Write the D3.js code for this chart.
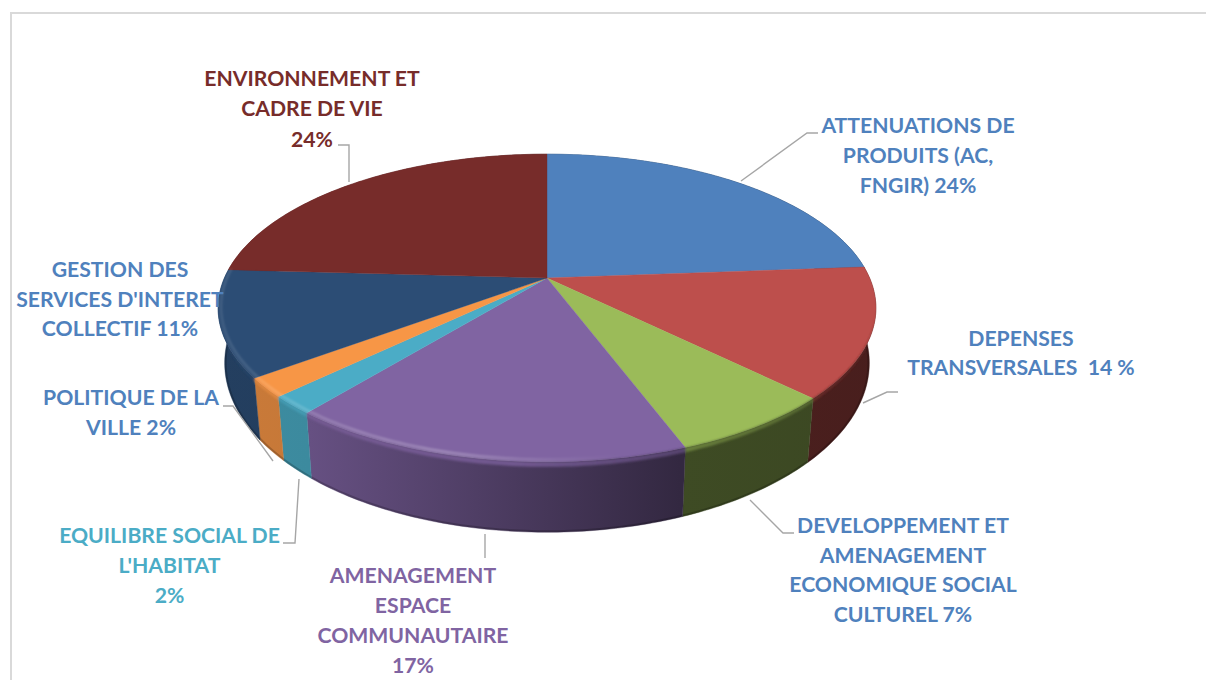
<!DOCTYPE html>
<html><head><meta charset="utf-8">
<script src="https://cdn.jsdelivr.net/npm/d3@7"></script>
<style>html,body{margin:0;padding:0;background:#fff;overflow:hidden}svg{display:block}
text{font-family:Lato,"Open Sans",sans-serif;font-weight:700;font-size:21.2px;white-space:pre}</style>
</head><body><svg id="c" width="1206" height="680"></svg>
<script>
// Data (shares, clockwise from 12 o'clock)
const categories = ["ATTENUATIONS","DEPENSES","DEVELOPPEMENT","AMENAGEMENT","EQUILIBRE","POLITIQUE","GESTION","ENVIRONNEMENT"];
const shares = [23.8,13.6,6.9,16.6,1.9,2.0,11.1,24.1];
const sliceColors = ["#4f81bd","#bd4f4c","#9bbb59","#8064a2","#4bacc6","#f79646","#2c4d75","#772c2a"];
const labelLines = [
 ["ATTENUATIONS DE","PRODUITS (AC,","FNGIR) 24%"],
 ["DEPENSES","TRANSVERSALES  14 %"],
 ["DEVELOPPEMENT ET","AMENAGEMENT","ECONOMIQUE SOCIAL","CULTUREL 7%"],
 ["AMENAGEMENT","ESPACE","COMMUNAUTAIRE","17%"],
 ["EQUILIBRE SOCIAL DE","L'HABITAT","2%"],
 ["POLITIQUE DE LA","VILLE 2%"],
 ["GESTION DES","SERVICES D'INTERET","COLLECTIF 11%"],
 ["ENVIRONNEMENT ET","CADRE DE VIE","24%"]
];
const labelColors = ["#4f81bd","#4f81bd","#4f81bd","#8064a2","#4bacc6","#4f81bd","#4f81bd","#772c2a"];
// Layout (not data)
const labelPos = [[918,133,30],[1021,346,29],[903,533,29.7],[413,583,30],[169.5,543,30],[131,405,30],[120,277,29.5],[312,85.5,30.5]];
const leaders = [
 [[741,181],[807,133],[818,133]],
 [[863,403],[887,392],[898,392]],
 [[750,500],[783,533],[794,533]],
 [[485,534],[485,558]],
 [[299,479],[295,543],[283,543]],
 [[273,461],[233,406],[223,406]],
 null,
 [[349,182],[349,145],[338,145]]
];

const svg = d3.select("#c"), defs = svg.append("defs");
const cx=547, cy=278, A=322.6, B=148, k=0.195;
// perspective projection of the unit disc onto the top face
const face = a => { const u=Math.sin(a), v=-Math.cos(a), w=1-k*v; return [cx+A*u/w, cy+B*v/w]; };
const rim  = a => { const p=face(a), d=Math.max(0,(p[1]-cy)/184); return [p[0], p[1]+5*d]; };
const base = a => { const p=face(a); return [cx+(p[0]-cx)*0.98, cy+(p[1]-cy)*1.1+52]; };

const pie = d3.pie().sort(null).value(d=>d)(shares);
const line = d3.line();
const arcPts = (f,d) => { const n=Math.max(8,Math.ceil((d.endAngle-d.startAngle)*60));
  return d3.range(n+1).map(i=>f(d.startAngle+(d.endAngle-d.startAngle)*i/n)); };
const wallPath = d => line(arcPts(face,d).concat(arcPts(base,d).reverse()))+"Z";
const facePath = d => line([[cx,cy]].concat(arcPts(face,d)))+"Z";

const shade = d3.scaleLinear().domain([200,310,680,900]).range([.82,.8,.4,.38]);
const rimShade = d3.scaleLinear().domain([200,520,700,900]).range([.92,.88,.66,.5]);
const mul=(c,f)=>{const r=d3.rgb(c);return d3.rgb(r.r*f,r.g*f,r.b*f).formatHex();};
function grad(id,col,sc){
  const g=defs.append("linearGradient").attr("id",id).attr("gradientUnits","userSpaceOnUse")
    .attr("x1",200).attr("x2",900).attr("y1",0).attr("y2",0);
  sc.domain().forEach(x=>g.append("stop").attr("offset",(x-200)/700).attr("stop-color",mul(col,sc(x))));
}
sliceColors.forEach((c,i)=>{grad("w"+i,c,shade);grad("r"+i,c,rimShade);});
defs.append("filter").attr("id","soft").attr("x","-5%").attr("y","-5%").attr("width","110%").attr("height","110%")
  .append("feGaussianBlur").attr("stdDeviation",1.2);
const hl=defs.append("linearGradient").attr("id","hl").attr("gradientUnits","userSpaceOnUse")
  .attr("x1",200).attr("x2",900).attr("y1",0).attr("y2",0);
[[0,.1],[.2,.22],[.36,.28],[.5,.1],[.6,0],[1,0]].forEach(s=>hl.append("stop").attr("offset",s[0]).attr("stop-color","#fff").attr("stop-opacity",s[1]));
// silhouette clip so soft edges never bleed onto the page
const clip=defs.append("clipPath").attr("id","sil");
clip.selectAll("path.a").data(pie).join("path").attr("class","a").attr("d",facePath);
clip.selectAll("path.b").data(pie).join("path").attr("class","b").attr("d",wallPath);

// frame
svg.append("path").attr("d","M11,680V13H1206").attr("fill","none").attr("stroke","#d9d9d9").attr("stroke-width",2);

// side walls
svg.append("g").selectAll("path").data(pie).join("path")
  .attr("d",wallPath)
  .attr("fill",d=>`url(#w${d.index})`).attr("stroke",d=>`url(#w${d.index})`).attr("stroke-width",.4);
// darker lower lip of the wall
const front = pie.filter(d=>d.startAngle<Math.PI*1.6);
svg.append("g").attr("clip-path","url(#sil)").selectAll("path").data(front).join("path")
  .attr("d",d=>line(arcPts(base,d))).attr("fill","none").attr("stroke","#000").attr("stroke-opacity",.2).attr("stroke-width",4);
// top faces
svg.append("g").selectAll("path").data(pie).join("path")
  .attr("d",facePath)
  .attr("fill",d=>sliceColors[d.index]).attr("stroke",d=>sliceColors[d.index]).attr("stroke-width",.4);
// bevel
const bevel=svg.append("g").attr("clip-path","url(#sil)").append("g").attr("filter","url(#soft)");
bevel.selectAll("path.b").data(front).join("path").attr("class","b")
  .attr("d",d=>line(arcPts(face,d).concat(arcPts(rim,d).reverse()))+"Z")
  .attr("fill",d=>`url(#r${d.index})`);
bevel.selectAll("path.h").data(pie.filter(d=>(d.startAngle+d.endAngle)/2>Math.PI*0.8&&(d.startAngle+d.endAngle)/2<Math.PI*1.6)).join("path").attr("class","h")
  .attr("d",d=>line(arcPts(a=>{const p=face(a),f=Math.max(0,(p[1]-cy)/184);return [p[0]+3*(cx-p[0])/330,p[1]-1-1.5*f];},d)))
  .attr("fill","none").attr("stroke","url(#hl)").attr("stroke-width",2.2);

// leader lines
svg.append("g").selectAll("path").data(leaders.filter(Boolean)).join("path")
  .attr("d",d=>line(d)).attr("fill","none").attr("stroke","#a6a6a6").attr("stroke-width",1.4);

// labels
const lg=svg.append("g").selectAll("text").data(labelLines).join("text")
  .attr("text-anchor","middle").attr("fill",(d,i)=>labelColors[i]);
lg.each(function(lines,i){
  const [x,y,dy]=labelPos[i];
  d3.select(this).selectAll("tspan").data(lines).join("tspan")
    .attr("x",x).attr("y",(d,j)=>y+j*dy).text(d=>d);
});
</script></body></html>
